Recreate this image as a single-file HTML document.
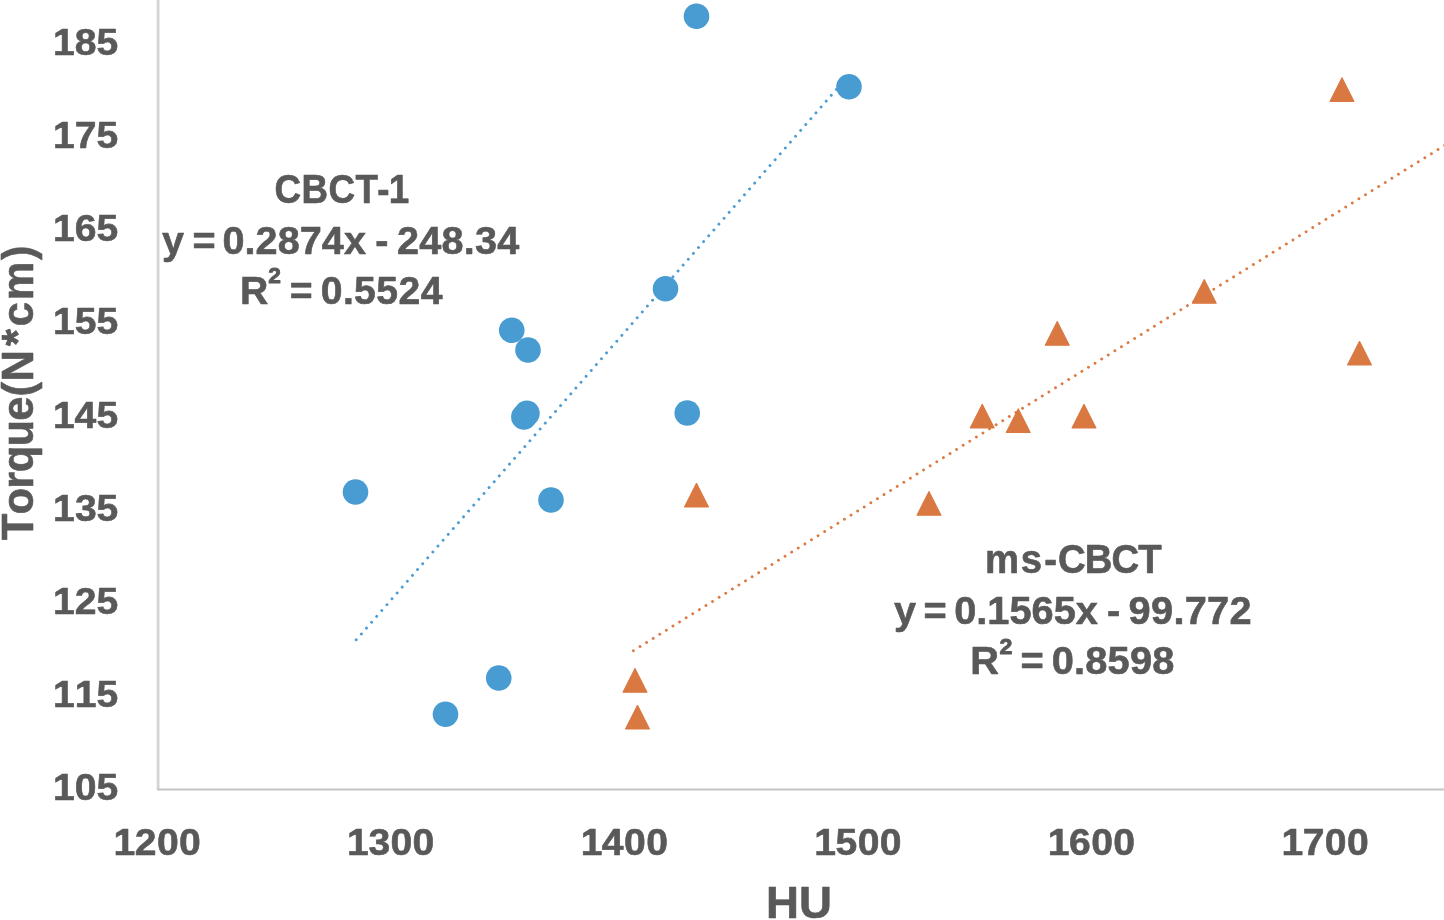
<!DOCTYPE html>
<html lang="en"><head><meta charset="utf-8"><title>Torque vs HU</title>
<style>
html,body{margin:0;padding:0;background:#fff;}
body{width:1444px;height:920px;overflow:hidden;}
svg{display:block;}
text{font-family:"Liberation Sans",sans-serif;font-weight:bold;fill:#595959;stroke:#595959;stroke-linejoin:round;font-kerning:none;white-space:pre;}
</style></head><body>
<svg width="1444" height="920" viewBox="0 0 1444 920">
<rect width="1444" height="920" fill="#fff"/>
<g>
<g fill="none">
<line x1="158.1" y1="-6" x2="158.1" y2="789.5" stroke="#d5d5d5" stroke-width="2.8"/>
<path d="M158,789.5 H1443.2" stroke-linecap="round" stroke="#c3c3c3" stroke-width="2"/>
</g>
<g>
<text transform="translate(0,54.9) scale(1.035,1)" x="51.15 72.18 93.25" font-size="37.8" stroke-width="0.6">185</text>
<text transform="translate(0,148.05) scale(1.035,1)" x="51.15 72.22 93.25" font-size="37.8" stroke-width="0.6">175</text>
<text transform="translate(0,241.2) scale(1.035,1)" x="51.15 72.18 93.25" font-size="37.8" stroke-width="0.6">165</text>
<text transform="translate(0,334.35) scale(1.035,1)" x="51.15 72.14 93.25" font-size="37.8" stroke-width="0.6">155</text>
<text transform="translate(0,427.5) scale(1.035,1)" x="51.15 72.01 93.25" font-size="37.8" stroke-width="0.6">145</text>
<text transform="translate(0,520.65) scale(1.035,1)" x="51.15 72.44 93.25" font-size="37.8" stroke-width="0.6">135</text>
<text transform="translate(0,613.8) scale(1.035,1)" x="51.15 72.29 93.25" font-size="37.8" stroke-width="0.6">125</text>
<text transform="translate(0,706.95) scale(1.035,1)" x="51.15 72.26 93.25" font-size="37.8" stroke-width="0.6">115</text>
<text transform="translate(0,800.1) scale(1.035,1)" x="51.15 72.22 93.25" font-size="37.8" stroke-width="0.6">105</text>
</g>
<g>
<text transform="translate(0,855) scale(1.035,1)" x="109.7 130.26 151.59 172.99" font-size="37.8" stroke-width="0.6">1200</text>
<text transform="translate(0,855) scale(1.035,1)" x="335.38 356.09 377.27 398.67" font-size="37.8" stroke-width="0.6">1300</text>
<text transform="translate(0,855) scale(1.035,1)" x="561.06 581.34 602.95 624.35" font-size="37.8" stroke-width="0.6">1400</text>
<text transform="translate(0,855) scale(1.035,1)" x="786.74 807.15 828.63 850.03" font-size="37.8" stroke-width="0.6">1500</text>
<text transform="translate(0,855) scale(1.035,1)" x="1012.42 1032.87 1054.31 1075.71" font-size="37.8" stroke-width="0.6">1600</text>
<text transform="translate(0,855) scale(1.035,1)" x="1238.1 1258.59 1279.99 1301.39" font-size="37.8" stroke-width="0.6">1700</text>
</g>
<text transform="translate(0,918.2) scale(1.0374,1)" x="738.34 770.11" font-size="44" stroke-width="0.6">HU</text>
<text transform="translate(32.7,539.8) rotate(-90) translate(0,0) scale(0.9889,1)" x="-0.52 25.57 51.66 68.29 94.38 120.46 144.94 160.17 195.91 215.93 242.23 283.06" font-size="44" stroke-width="0.6">Torque(N*cm)</text>
<g fill="none" stroke-linecap="round" stroke-width="2.9" stroke-dasharray="0.01 7.76">
<line x1="356.25" y1="639.8" x2="849" y2="75" stroke="#4a9cd2"/>
<line x1="633.4" y1="650.7" x2="1446" y2="144.6" stroke="#dc7a42"/>
</g>
<g fill="#489cd1">
<circle cx="696.5" cy="16.25" r="12.8"/>
<circle cx="849" cy="86.75" r="12.8"/>
<circle cx="665.5" cy="288.75" r="12.8"/>
<circle cx="511.75" cy="330.25" r="12.8"/>
<circle cx="528" cy="350" r="12.8"/>
<circle cx="523.9" cy="416.9" r="12.8"/>
<circle cx="526.9" cy="413.4" r="12.8"/>
<circle cx="687.25" cy="413" r="12.8"/>
<circle cx="355.5" cy="492" r="12.8"/>
<circle cx="551" cy="500" r="12.8"/>
<circle cx="498.75" cy="678" r="12.8"/>
<circle cx="445.5" cy="714.25" r="12.8"/>
</g>
<g fill="#da7842" stroke="#da7842" stroke-width="1" stroke-linejoin="round">
<path d="M1342,77.6 L1354.1,101.5 L1329.9,101.5 Z"/>
<path d="M1204.25,279.35 L1216.35,303.25 L1192.15,303.25 Z"/>
<path d="M1057.25,321.35 L1069.35,345.25 L1045.15,345.25 Z"/>
<path d="M1359.5,341.1 L1371.6,365 L1347.4,365 Z"/>
<path d="M982.25,404.1 L994.35,428 L970.15,428 Z"/>
<path d="M1018.25,408.6 L1030.35,432.5 L1006.15,432.5 Z"/>
<path d="M1084,404.1 L1096.1,428 L1071.9,428 Z"/>
<path d="M696.5,483.1 L708.6,507 L684.4,507 Z"/>
<path d="M929,491.35 L941.1,515.25 L916.9,515.25 Z"/>
<path d="M635,668.35 L647.1,692.25 L622.9,692.25 Z"/>
<path d="M637.5,705.1 L649.6,729 L625.4,729 Z"/>
</g>
<g>
<text transform="translate(0,203) scale(0.9539,1.03)" x="287.7 316.03 344.37 372.71 395.57 407.47" font-size="38.6" stroke-width="0.6">CBCT-1</text>
<text transform="translate(0,253.75) scale(1.0264,1)" x="157.9 176.76 187.57 205.96 216.77 238.28 249.03 270.55 292.07 313.58 335.1 354.91 365.72 376 386.81 408.5 430.2 451.9 462.74 484.44" font-size="38.6" stroke-width="0.6">y = 0.2874x - 248.34</text>
<text transform="translate(0,303.75) scale(1.0144,1)" x="236.71 264.52 274.88 285.69 305.38 316.19 338.13 349.09 371.03 392.96 414.9" font-size="38.6" stroke-width="0.6">R<tspan font-size="22.5" dy="-20.5" stroke-width="0.9">2</tspan><tspan dy="20.5"> = 0.5524</tspan></text>
<text transform="translate(0,573.2) scale(0.9936,1.03)" x="991.45 1027.28 1050.9 1064.71 1091.67 1118.64 1145.61" font-size="38.6" stroke-width="0.6">ms-CBCT</text>
<text transform="translate(0,623.75) scale(1.0295,1)" x="868.5 886.31 897.12 916.03 926.84 948.33 959.07 980.56 1002.05 1023.53 1045.02 1064.39 1075.2 1085.45 1096.26 1118.04 1139.81 1150.69 1172.47 1194.25" font-size="38.6" stroke-width="0.6">y = 0.1565x - 99.772</text>
<text transform="translate(0,673.75) scale(1.0313,1)" x="940.75 969.2 978.8 989.6 1009.04 1019.85 1041.5 1052.32 1073.98 1095.64 1117.29" font-size="38.6" stroke-width="0.6">R<tspan font-size="22.5" dy="-19.4" stroke-width="0.9">2</tspan><tspan dy="19.4"> = 0.8598</tspan></text>
</g>
</g>
</svg>
</body></html>
